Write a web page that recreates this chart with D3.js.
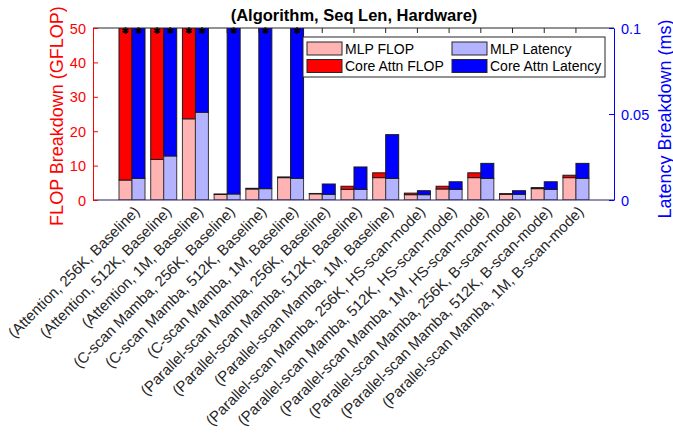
<!DOCTYPE html>
<html>
<head>
<meta charset="utf-8">
<script src="https://cdn.jsdelivr.net/npm/d3@7"></script>
<style>
  body { margin: 0; background: #fff; }
  svg { font-family: Arial, "Liberation Sans", Helvetica, sans-serif; }
</style>
</head>
<body>
<div id="chart"></div>
<script>
// categories along x
const categories = [
  "(Attention, 256K, Baseline)",
  "(Attention, 512K, Baseline)",
  "(Attention, 1M, Baseline)",
  "(C-scan Mamba, 256K, Baseline)",
  "(C-scan Mamba, 512K, Baseline)",
  "(C-scan Mamba, 1M, Baseline)",
  "(Parallel-scan Mamba, 256K, Baseline)",
  "(Parallel-scan Mamba, 512K, Baseline)",
  "(Parallel-scan Mamba, 1M, Baseline)",
  "(Parallel-scan Mamba, 256K, HS-scan-mode)",
  "(Parallel-scan Mamba, 512K, HS-scan-mode)",
  "(Parallel-scan Mamba, 1M, HS-scan-mode)",
  "(Parallel-scan Mamba, 256K, B-scan-mode)",
  "(Parallel-scan Mamba, 512K, B-scan-mode)",
  "(Parallel-scan Mamba, 1M, B-scan-mode)"
]

// GFLOP (left axis); the first three core-attn values run off the top
const mlpFlop  = [5.8, 11.8, 23.6, 1.6, 3.2, 6.5, 1.8, 3.1, 6.5, 1.55, 3.2, 6.5, 1.65, 3.3, 6.5]
const attnFlop = [140, 560, 2240, 0.15, 0.2, 0.2, 0.1, 0.9, 1.4, 0.45, 0.8, 1.4, 0.2, 0.3, 0.7]

// ms (right axis); attention and C-scan core-attn latency run off the top
const mlpLat  = [0.0126, 0.0256, 0.051, 0.0035, 0.0066, 0.0126, 0.0033, 0.0062, 0.0126, 0.0031, 0.0062, 0.0126, 0.0033, 0.0062, 0.0126]
const attnLat = [0.3, 1.2, 4.8, 0.2, 0.4, 0.8, 0.006, 0.013, 0.0254, 0.0023, 0.0044, 0.0087, 0.0021, 0.0044, 0.0087]

const flopTicks = [0, 10, 20, 30, 40, 50]
const latTicks = [0, 0.05, 0.1]

const legendItems = [
  {label: "MLP FLOP", color: "#ffb3b3"},
  {label: "MLP Latency", color: "#b3b3ff"},
  {label: "Core Attn FLOP", color: "#ff0000"},
  {label: "Core Attn Latency", color: "#0000ff"}
]

const FONT = 'Arial, "Liberation Sans", Helvetica, sans-serif'
const width = 673, height = 437
const margin = {top: 28, right: 59, bottom: 237, left: 93}
const innerWidth = width - margin.left - margin.right
const innerHeight = height - margin.top - margin.bottom

const svg = d3.select("#chart").append("svg")
  .attr("width", width)
  .attr("height", height)

const g = svg.append("g").attr("transform", "translate(" + margin.left + "," + margin.top + ")")

let x = d3.scaleLinear().domain([-1.23, 15.2]).range([0, innerWidth])
let yF = d3.scaleLinear().domain([0, 50]).range([innerHeight, 0])
let yL = d3.scaleLinear().domain([0, 0.1]).range([innerHeight, 0])
const barW = x(0.41) - x(0)

svg.append("defs").append("clipPath").attr("id", "plotclip")
  .append("rect").attr("width", innerWidth).attr("height", innerHeight)

const bars = g.append("g").attr("clip-path", "url(#plotclip)")

const rows = categories.map(function(c, i) {
  return {i: i, mf: mlpFlop[i], af: attnFlop[i], ml: mlpLat[i], al: attnLat[i]}
})

function stack(sel, xoff, y, lo, hi, cLo, cHi) {
  sel.append("rect")
    .attr("x", d => x(d.i) + xoff)
    .attr("width", barW)
    .attr("y", d => y(lo(d)))
    .attr("height", d => innerHeight - y(lo(d)))
    .attr("fill", cLo)
    .attr("stroke", "#3a3a3a").attr("stroke-width", 1)
  sel.append("rect")
    .attr("x", d => x(d.i) + xoff)
    .attr("width", barW)
    .attr("y", d => Math.max(-2, y(lo(d) + hi(d))))
    .attr("height", d => y(lo(d)) - Math.max(-2, y(lo(d) + hi(d))))
    .attr("fill", cHi)
    .attr("stroke", "#1a1a1a").attr("stroke-width", 1)
}

const grp = bars.selectAll(".cat").data(rows).enter().append("g").attr("class", "cat")
stack(grp, -barW, yF, d => d.mf, d => d.af, "#ffb3b3", "#ff0000")
stack(grp, 0, yL, d => d.ml, d => d.al, "#b3b3ff", "#0000ff")

// overflow markers
const star = d3.symbol().type(d3.symbolAsterisk).size(30)
rows.forEach(function(d) {
  if (d.mf + d.af > 50) {
    g.append("path").attr("d", star)
      .attr("transform", "translate(" + (x(d.i) - barW / 2) + ",2.5)")
      .attr("stroke", "#000").attr("stroke-width", 1.8).attr("fill", "none")
  }
  if (d.ml + d.al > 0.1) {
    g.append("path").attr("d", star)
      .attr("transform", "translate(" + (x(d.i) + barW / 2) + ",2.5)")
      .attr("stroke", "#000").attr("stroke-width", 1.8).attr("fill", "none")
  }
})

// box: top and bottom with inward category ticks
const idx = d3.range(categories.length)
g.append("line").attr("x1", 0).attr("x2", innerWidth).attr("y1", 0).attr("y2", 0)
  .attr("stroke", "#262626")
g.selectAll(".ttick").data(idx).enter().append("line")
  .attr("x1", d => x(d)).attr("x2", d => x(d)).attr("y1", 0).attr("y2", 5)
  .attr("stroke", "#262626")
g.append("line").attr("x1", 0).attr("x2", innerWidth).attr("y1", innerHeight).attr("y2", innerHeight)
  .attr("stroke", "#2a2060").attr("stroke-width", 1.2)

// left axis (red)
const left = g.append("g")
  .call(d3.axisLeft(yF).tickValues(flopTicks).tickSizeInner(-5).tickSizeOuter(0).tickPadding(7))
  .attr("font-family", FONT)
left.select(".domain").attr("stroke", "#ff0000")
left.selectAll(".tick line").attr("stroke", "#ff0000")
left.selectAll(".tick text").attr("fill", "#ff0000").style("font-size", "14.5px")
  .attr("dy", null).attr("y", 5)

// right axis (blue)
const right = g.append("g").attr("transform", "translate(" + innerWidth + ",0)")
  .call(d3.axisRight(yL).tickValues(latTicks).tickFormat(d3.format("~g")).tickSizeInner(-5).tickSizeOuter(0).tickPadding(7))
  .attr("font-family", FONT)
right.select(".domain").attr("stroke", "#0000ff")
right.selectAll(".tick line").attr("stroke", "#0000ff")
right.selectAll(".tick text").attr("fill", "#0000ff").style("font-size", "14.5px")
  .attr("dy", null).attr("y", 5)

// x tick labels
g.selectAll(".xlab").data(categories).enter().append("text")
  .attr("transform", (d, i) => "translate(" + (x(i) + 5) + "," + (innerHeight + 9) + ") rotate(-45)")
  .attr("text-anchor", "end")
  .attr("y", 5)
  .attr("fill", "#262626")
  .style("font-size", "15px")
  .text(d => d)

// axis titles
svg.append("text")
  .attr("transform", "translate(63,116) rotate(-90)")
  .attr("text-anchor", "middle")
  .attr("fill", "#ff0000")
  .style("font-size", "18px")
  .text("FLOP Breakdown (GFLOP)")

svg.append("text")
  .attr("transform", "translate(671,119) rotate(-90)")
  .attr("text-anchor", "middle")
  .attr("fill", "#0000ff")
  .style("font-size", "18px")
  .text("Latency Breakdown (ms)")

svg.append("text")
  .attr("x", 354).attr("y", 21)
  .attr("text-anchor", "middle")
  .attr("font-weight", "bold")
  .attr("fill", "#000")
  .style("font-size", "16.5px")
  .text("(Algorithm, Seq Len, Hardware)")

// legend
const lg = svg.append("g").attr("transform", "translate(303,37)")
lg.append("rect").attr("width", 302).attr("height", 40)
  .attr("fill", "#fff").attr("stroke", "#262626")
legendItems.forEach(function(d, k) {
  const col = k % 2, row = Math.floor(k / 2)
  const it = lg.append("g").attr("transform", "translate(" + (4 + col * 145) + "," + (5 + row * 17.5) + ")")
  it.append("rect").attr("width", 35).attr("height", 13)
    .attr("fill", d.color).attr("stroke", "#262626")
  it.append("text").attr("x", 38).attr("y", 11.5)
    .attr("fill", "#000").style("font-size", "14px")
    .text(d.label)
})
</script>
</body>
</html>
